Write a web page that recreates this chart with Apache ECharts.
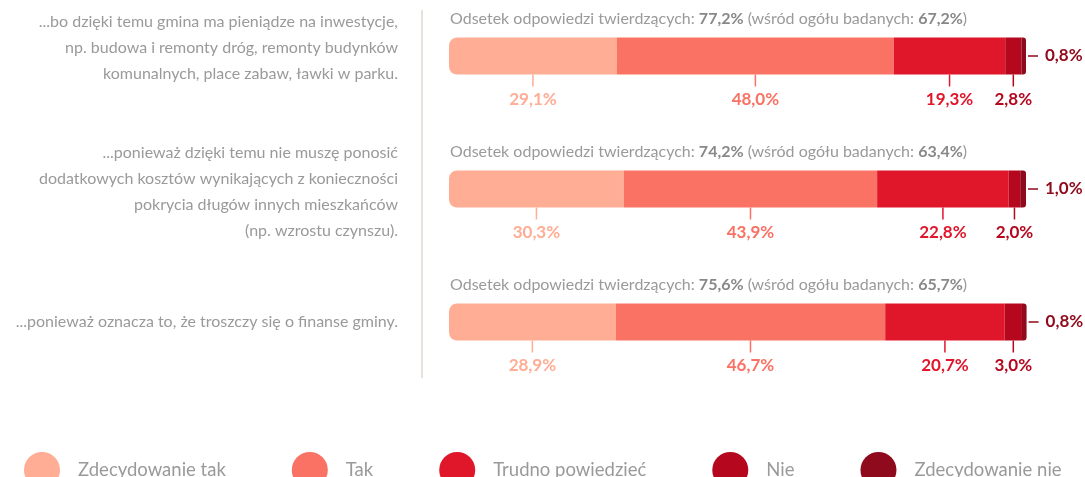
<!DOCTYPE html>
<html>
<head>
<meta charset="utf-8">
<script src="https://cdn.jsdelivr.net/npm/echarts@6/dist/echarts.min.js"></script>
<style>
  html, body { margin: 0; padding: 0; background: #fff; }
  #chart { width: 1085px; height: 477px; }
</style>
</head>
<body>
<div id="chart"></div>
<script>
// Survey statements (left column)
const questions = [
  '...bo dzięki temu gmina ma pieniądze na inwestycje,\nnp. budowa i remonty dróg, remonty budynków\nkomunalnych, place zabaw, ławki w parku.',
  '...ponieważ dzięki temu nie muszę ponosić\ndodatkowych kosztów wynikających z konieczności\npokrycia długów innych mieszkańców\n(np. wzrostu czynszu).',
  '...ponieważ oznacza to, że troszczy się o finanse gminy.'
];

// Answer categories
const answerNames = ['Zdecydowanie tak', 'Tak', 'Trudno powiedzieć', 'Nie', 'Zdecydowanie nie'];

// Shares of answers (%)
const zdecydowanieTak = [29.1, 30.3, 28.9];
const tak = [48.0, 43.9, 46.7];
const trudnoPowiedziec = [19.3, 22.8, 20.7];
const nie = [2.8, 2.0, 3.0];
const zdecydowanieNie = [0.8, 1.0, 0.8];

// Share of affirmative answers and share among all respondents (%)
const affirmativeShare = [77.2, 74.2, 75.6];
const overallShare = [67.2, 63.4, 65.7];

const colors = ['#FFAD94', '#F97264', '#E0162B', '#B5081F', '#8F0A1C'];
const FONT = 'Lato';

// Vertical nudge (px) of each statement block relative to its bar
const statementNudge = [-8, 3, 0];

const fmt = v => v.toFixed(1).replace('.', ',') + '%';

const seriesValues = [zdecydowanieTak, tak, trudnoPowiedziec, nie, zdecydowanieNie];

function bottomLabel(color) {
  return {
    show: true,
    position: 'bottom',
    distance: 0,
    formatter: p => '{t|}\n{v|' + fmt(p.value) + '}',
    rich: {
      t: { width: 1.5, height: 12, backgroundColor: color },
      v: { color: color, fontFamily: FONT, fontWeight: 'bold', fontSize: 17, lineHeight: 26 }
    }
  };
}

function rightLabel(color) {
  return {
    show: true,
    position: 'right',
    distance: 2,
    formatter: p => '{t|}{v|' + fmt(p.value) + '}',
    rich: {
      t: { width: 10, height: 1.5, backgroundColor: color },
      v: { color: color, fontFamily: FONT, fontWeight: 'bold', fontSize: 17, padding: [0, 0, 0, 7] }
    }
  };
}

const barSeries = seriesValues.map((vals, i) => ({
  name: answerNames[i],
  type: 'bar',
  stack: 'total',
  barWidth: 37,
  clip: false,
  data: vals,
  itemStyle: {
    color: colors[i],
    borderRadius: i === 0 ? [8, 0, 0, 8] : (i === 4 ? [0, 3, 3, 0] : 0)
  },
  label: i === 4 ? rightLabel(colors[i]) : bottomLabel(colors[i]),
  emphasis: { disabled: true }
}));

// Header line above each bar
const headerSeries = {
  type: 'custom',
  silent: true,
  encode: { x: 0, y: 1 },
  data: questions.map((q, i) => [0, i, affirmativeShare[i], overallShare[i]]),
  renderItem: (params, api) => {
    const p = api.coord([0, api.value(1)]);
    const a = fmt(api.value(2));
    const o = fmt(api.value(3));
    return {
      type: 'text',
      x: p[0] + 1,
      y: p[1] - 37,
      style: {
        text: '{n|Odsetek odpowiedzi twierdzących: }{b|' + a + '}{n| (wśród ogółu badanych: }{b|' + o + '}{n|)}',
        verticalAlign: 'middle',
        align: 'left',
        rich: {
          n: { fill: '#9a9a9a', fontFamily: FONT, fontSize: 16 },
          b: { fill: '#888888', fontFamily: FONT, fontSize: 16, fontWeight: 'bold' }
        }
      }
    };
  }
};

// Statement label: lines plus an empty spacer line that shifts the block up or down
function statementLabel(value, index) {
  const shift = statementNudge[index] || 0;
  const lines = value.split('\n').map(l => '{s|' + l + '}');
  if (shift < 0) lines.push('{g' + index + '|}');
  if (shift > 0) lines.unshift('{g' + index + '|}');
  return lines.join('\n');
}
const statementRich = { s: { color: '#9a9a9a', fontFamily: FONT, fontSize: 16, lineHeight: 26, align: 'right' } };
statementNudge.forEach((s, i) => {
  statementRich['g' + i] = { height: Math.abs(s) * 2, lineHeight: Math.abs(s) * 2 };
});

const chart = echarts.init(document.getElementById('chart'), null, { renderer: 'canvas' });
chart.setOption({
  animation: false,
  textStyle: { fontFamily: FONT },
  grid: { left: 449, width: 577, top: 56, height: 266, containLabel: false },
  xAxis: { type: 'value', min: 0, max: 100, show: false },
  yAxis: {
    type: 'category',
    inverse: true,
    boundaryGap: false,
    data: questions,
    axisLine: { show: false },
    axisTick: { show: false },
    splitLine: { show: false },
    axisLabel: {
      margin: 51,
      align: 'right',
      color: '#9a9a9a',
      fontFamily: FONT,
      fontSize: 16,
      lineHeight: 26,
      formatter: statementLabel,
      rich: statementRich
    }
  },
  legend: {
    data: answerNames,
    left: 19,
    top: 447,
    icon: 'circle',
    itemWidth: 36,
    itemHeight: 36,
    itemGap: 66,
    selectedMode: false,
    textStyle: { color: '#9a9a9a', fontFamily: FONT, fontSize: 18.5, padding: [0, 0, 0, 13] }
  },
  graphic: [{
    type: 'line',
    shape: { x1: 422, y1: 10, x2: 422, y2: 378 },
    style: { stroke: '#e8e3da', lineWidth: 2 },
    silent: true
  }],
  series: barSeries.concat([headerSeries])
});
</script>
</body>
</html>
